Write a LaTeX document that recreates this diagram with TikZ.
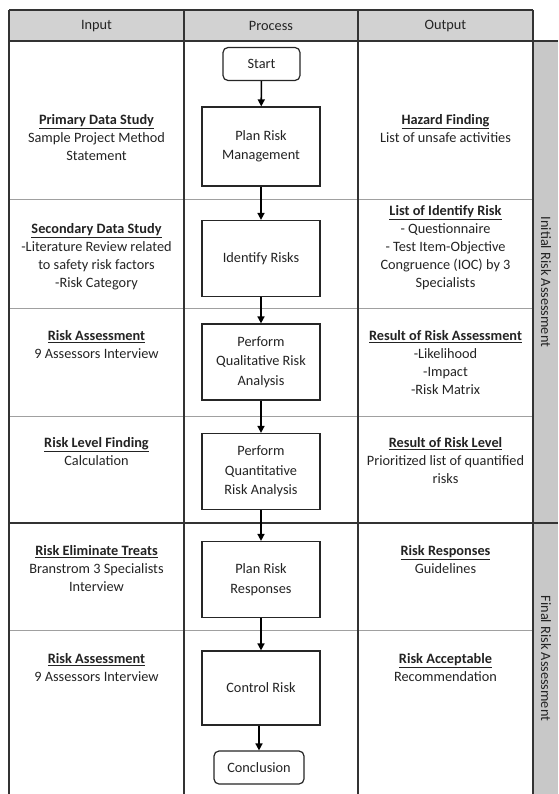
\documentclass[tikz,border=0pt]{standalone}
\usepackage{fontspec}
\setmainfont{Carlito}
\usepackage{tikz}
\usetikzlibrary{arrows.meta,positioning}
\usepackage{xcolor}
\definecolor{hdgray}{RGB}{210,210,210}
\definecolor{bandgray}{RGB}{200,200,200}
\definecolor{rulegray}{RGB}{160,160,160}
\definecolor{txtdark}{RGB}{35,35,35}
\tikzstyle{process} = [rectangle, minimum width=118pt, minimum height=76pt, text centered, align=center, draw=black!85, line width=1.2pt, fill=white, text=txtdark, font=\fontsize{14.3}{19.5}\selectfont]
\tikzstyle{terminal} = [rectangle, rounded corners=5pt, minimum width=77pt, minimum height=33pt, text centered, draw=black!85, line width=1.2pt, fill=white, text=txtdark, font=\fontsize{14.3}{19.5}\selectfont]
\tikzstyle{arrow} = [line width=1.6pt,-{Triangle[length=7pt,width=7pt]},color=black]
\tikzstyle{cell} = [align=center, anchor=north, inner sep=0pt, text=txtdark, font=\fontsize{14.3}{18}\selectfont]
\tikzstyle{sidelabel} = [rotate=-90, inner sep=0pt, text=txtdark, font=\fontsize{14.3}{18}\selectfont]
\newcommand{\hd}[1]{\underline{\textbf{#1}}}

\begin{document}
\begin{tikzpicture}[x=1pt,y=-1pt]
\useasboundingbox (0,0) rectangle (558,794);

% Table frame
\fill[hdgray] (9,10) rectangle (533,41);
\fill[bandgray] (533,41) rectangle (558,794);
\draw[rulegray, line width=1pt] (9,200) -- (533,200) (9,308) -- (533,308) (9,416) -- (533,416) (9,630) -- (533,630);
\draw[black!80, line width=1.2pt] (9,10) -- (533,10) (9,41) -- (558,41) (9,523) -- (558,523);
\draw[black!80, line width=1.2pt] (9,10) -- (9,794) (184,10) -- (184,794) (358,10) -- (358,794) (533,10) -- (533,794);

% Header
\node[cell, anchor=center] (hin) at (96.5,26) {Input};
\node[cell, anchor=center] (hpr) at (271,26) {Process};
\node[cell, anchor=center] (hout) at (445.5,26) {Output};

% Process steps
\node[terminal] (start) at (261.5,64) {Start};
\node[process, minimum height=79pt] (plan) at (261,146.5) {Plan Risk\\Management};
\node[process] (ident) at (261,258.5) {Identify Risks};
\node[process] (qual) at (261,362) {Perform\\Qualitative Risk\\Analysis};
\node[process] (quant) at (261,471.5) {Perform\\Quantitative\\Risk Analysis};
\node[process] (resp) at (261,579.5) {Plan Risk\\Responses};
\node[process, minimum height=74pt] (control) at (261,688) {Control Risk};
\node[terminal, minimum width=90pt] (concl) at (259,767.5) {Conclusion};

% Arrows
\draw[arrow] (start) -- (plan);
\draw[arrow] (plan) -- (ident);
\draw[arrow] (ident) -- (qual);
\draw[arrow] (qual) -- (quant);
\draw[arrow] (quant) -- (resp);
\draw[arrow] (resp) -- (control);
\draw[arrow] (control.south -| concl.north) -- (concl);

% Input column
\node[cell] (in1) at (96.5,114) {\hd{Primary Data Study}\\Sample Project Method\\Statement};
\node[cell] (in2) at (96.5,223) {\hd{Secondary Data Study}\\-Literature Review related\\to safety risk factors\\-Risk Category};
\node[cell] (in3) at (96.5,330) {\hd{Risk Assessment}\\9 Assessors Interview};
\node[cell] (in4) at (96.5,437) {\hd{Risk Level Finding}\\Calculation};
\node[cell] (in5) at (96.5,545) {\hd{Risk Eliminate Treats}\\Branstrom 3 Specialists\\Interview};
\node[cell] (in6) at (96.5,653) {\hd{Risk Assessment}\\9 Assessors Interview};

% Output column
\node[cell] (out1) at (445.5,114) {\hd{Hazard Finding}\\List of unsafe activities};
\node[cell] (out2) at (445.5,205) {\hd{List of Identify Risk}\\- Questionnaire\\- Test Item-Objective\\Congruence (IOC) by 3\\Specialists};
\node[cell] (out3) at (445.5,330) {\hd{Result of Risk Assessment}\\-Likelihood\\-Impact\\-Risk Matrix};
\node[cell] (out4) at (445.5,437) {\hd{Result of Risk Level}\\Prioritized list of quantified\\risks};
\node[cell] (out5) at (445.5,545) {\hd{Risk Responses}\\Guidelines};
\node[cell] (out6) at (445.5,653) {\hd{Risk Acceptable}\\Recommendation};

% Phase labels
\node[sidelabel] (initial) at (546,282) {Initial Risk Assessment};
\node[sidelabel] (final) at (546,658.5) {Final Risk Assessment};
\end{tikzpicture}
\end{document}
